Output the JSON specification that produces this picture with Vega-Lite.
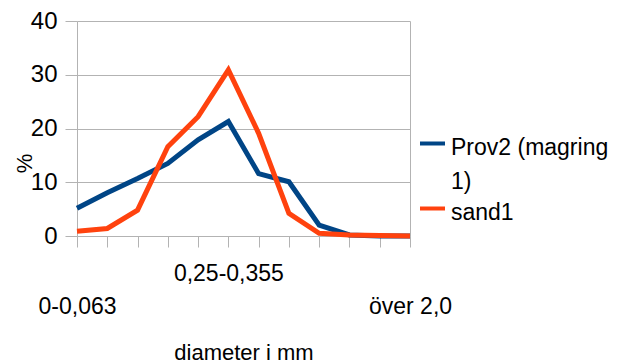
{
  "$schema": "https://vega.github.io/schema/vega-lite/v6.json",
  "width": 333,
  "height": 215,
  "autosize": {"type": "none"},
  "padding": {"left": 77, "top": 21, "right": 212, "bottom": 127},
  "background": "white",
  "config": {"view": {"stroke": null}, "font": "Liberation Sans"},
  "data": {"values": [
    {"diameter": "0-0,063", "serie": "Prov2 (magring 1)", "pct": 5.15},
    {"diameter": "0,063-0,09", "serie": "Prov2 (magring 1)", "pct": 8.06},
    {"diameter": "0,09-0,125", "serie": "Prov2 (magring 1)", "pct": 10.7},
    {"diameter": "0,125-0,18", "serie": "Prov2 (magring 1)", "pct": 13.5},
    {"diameter": "0,18-0,25", "serie": "Prov2 (magring 1)", "pct": 17.9},
    {"diameter": "0,25-0,355", "serie": "Prov2 (magring 1)", "pct": 21.3},
    {"diameter": "0,355-0,5", "serie": "Prov2 (magring 1)", "pct": 11.6},
    {"diameter": "0,5-0,71", "serie": "Prov2 (magring 1)", "pct": 10.1},
    {"diameter": "0,71-1,0", "serie": "Prov2 (magring 1)", "pct": 2.0},
    {"diameter": "1,0-1,4", "serie": "Prov2 (magring 1)", "pct": 0.2},
    {"diameter": "1,4-2,0", "serie": "Prov2 (magring 1)", "pct": 0.0},
    {"diameter": "över 2,0", "serie": "Prov2 (magring 1)", "pct": 0.0},
    {"diameter": "0-0,063", "serie": "sand1", "pct": 0.9},
    {"diameter": "0,063-0,09", "serie": "sand1", "pct": 1.4},
    {"diameter": "0,09-0,125", "serie": "sand1", "pct": 4.8},
    {"diameter": "0,125-0,18", "serie": "sand1", "pct": 16.6},
    {"diameter": "0,18-0,25", "serie": "sand1", "pct": 22.2},
    {"diameter": "0,25-0,355", "serie": "sand1", "pct": 30.9},
    {"diameter": "0,355-0,5", "serie": "sand1", "pct": 19.1},
    {"diameter": "0,5-0,71", "serie": "sand1", "pct": 4.2},
    {"diameter": "0,71-1,0", "serie": "sand1", "pct": 0.5},
    {"diameter": "1,0-1,4", "serie": "sand1", "pct": 0.2},
    {"diameter": "1,4-2,0", "serie": "sand1", "pct": 0.1},
    {"diameter": "över 2,0", "serie": "sand1", "pct": 0.0}
  ]},
  "mark": {"type": "line", "strokeWidth": 5, "strokeJoin": "miter"},
  "encoding": {
    "x": {
      "field": "diameter",
      "type": "nominal",
      "sort": ["0-0,063", "0,063-0,09", "0,09-0,125", "0,125-0,18", "0,18-0,25", "0,25-0,355", "0,355-0,5", "0,5-0,71", "0,71-1,0", "1,0-1,4", "1,4-2,0", "över 2,0"],
      "scale": {"type": "point", "padding": 0},
      "axis": {
        "title": "diameter i mm",
        "titleFontSize": 22,
        "titleFontWeight": "normal",
        "titleColor": "black",
        "titleY": 116,
        "titleBaseline": "middle",
        "labelAngle": 0,
        "labelOverlap": false,
        "labelLimit": 0,
        "labelExpr": "(datum.value === '0-0,063' || datum.value === '0,25-0,355' || datum.value === 'över 2,0') ? datum.value : ''",
        "labelFontSize": 23,
        "labelColor": "black",
        "labelBaseline": "middle",
        "labelAlign": "center",
        "labelPadding": {"condition": {"test": "datum.value === '0,25-0,355'", "value": 26}, "value": 59},
        "tickSize": 11,
        "tickColor": "#b3b3b3",
        "domainColor": "#b3b3b3",
        "grid": true,
        "gridColor": "#b3b3b3",
        "gridOpacity": {"condition": {"test": "datum.value === 'över 2,0'", "value": 1}, "value": 0}
      }
    },
    "y": {
      "field": "pct",
      "type": "quantitative",
      "scale": {"domain": [0, 40]},
      "axis": {
        "values": [0, 10, 20, 30, 40],
        "title": "%",
        "titleFontSize": 22,
        "titleFontWeight": "normal",
        "titleColor": "black",
        "titleX": -53,
        "titleY": 142,
        "titleAlign": "center",
        "titleBaseline": "middle",
        "labelFontSize": 24,
        "labelColor": "black",
        "labelPadding": 8,
        "tickSize": 12,
        "tickColor": "#b3b3b3",
        "domainColor": "#b3b3b3",
        "gridColor": "#b3b3b3"
      }
    },
    "color": {
      "field": "serie",
      "type": "nominal",
      "scale": {"domain": ["Prov2 (magring 1)", "sand1"], "range": ["#004586", "#ff420e"]},
      "legend": {
        "title": null,
        "orient": "none",
        "legendX": 341,
        "legendY": 108,
        "symbolType": "stroke",
        "symbolSize": 625,
        "symbolStrokeWidth": 4,
        "labelFontSize": 23,
        "labelColor": "black",
        "labelOffset": 4,
        "labelLimit": 0,
        "rowPadding": 0,
        "labelExpr": "datum.label === 'Prov2 (magring 1)' ? ['Prov2 (magring', '1)'] : datum.label",
        "encode": {"labels": {"update": {"lineHeight": {"value": 34}, "dy": {"value": 4}}}}
      }
    }
  }
}
